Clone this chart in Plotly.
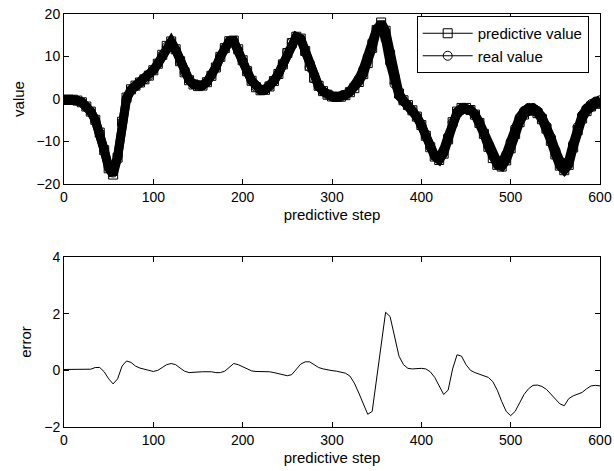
import plotly.graph_objects as go

steps = list(range(0, 601, 5))

real_value = [
    -0.2, -0.2, -0.2, -0.4, -0.8, -1.8, -3.0, -5.0, -8.0, -12.0,
    -16.0, -17.3, -13.5, -5.5, 0.0, 2.0, 3.0, 3.8, 4.6, 5.5,
    6.8, 8.3, 10.3, 12.3, 13.3, 11.5, 8.8, 6.3, 4.5, 3.5,
    3.1, 3.2, 4.0, 5.5, 7.5, 10.0, 12.0, 13.5, 13.5, 11.5,
    9.0, 6.5, 4.3, 2.8, 2.1, 2.2, 3.0, 4.3, 6.0, 8.3,
    11.0, 13.3, 14.6, 14.0, 11.0, 7.5, 4.8, 3.0, 1.8, 1.0,
    0.6, 0.5, 0.6, 1.0, 1.8, 3.0, 4.8, 7.0, 10.0, 13.5,
    16.5, 17.0, 14.0, 8.5, 3.5, 0.8, -0.5, -1.5, -2.7, -4.2,
    -6.2, -8.7, -11.3, -13.3, -13.8, -12.0, -8.8, -5.5, -3.5, -2.6,
    -2.3, -2.6, -3.6, -5.5, -8.0, -11.0, -13.5, -14.8, -14.8, -13.0,
    -10.0, -6.8, -4.3, -2.8, -2.1, -2.1, -2.8, -4.2, -6.3, -9.0,
    -12.0, -14.5, -15.5, -14.5, -10.5, -6.5, -3.8, -2.2, -1.2, -0.6,
    -0.3,
]

error = [
    0.03, 0.03, 0.03, 0.03, 0.03, 0.03, 0.04, 0.1, 0.1, -0.05,
    -0.3, -0.48, -0.3, 0.15, 0.33, 0.28, 0.15, 0.08, 0.03, 0.0,
    -0.04, 0.0, 0.1, 0.2, 0.24, 0.2, 0.08, -0.03, -0.08, -0.08,
    -0.06, -0.05, -0.05, -0.05, -0.08, -0.08, -0.03, 0.1, 0.24, 0.2,
    0.12, 0.04, -0.02, -0.04, -0.04, -0.04, -0.05, -0.08, -0.11, -0.15,
    -0.19, -0.15, 0.05, 0.22, 0.3, 0.3, 0.2, 0.1, 0.05, 0.01,
    -0.01, -0.03, -0.06, -0.1, -0.2, -0.45, -0.8, -1.15, -1.55, -1.45,
    -0.25, 1.0, 2.05, 1.9, 1.15, 0.5, 0.2, 0.07, 0.05, 0.06,
    0.07, 0.05, -0.05, -0.25, -0.55, -0.85, -0.7, 0.05, 0.55, 0.5,
    0.2, 0.0, -0.08, -0.13, -0.2, -0.25, -0.4, -0.7, -1.1, -1.45,
    -1.6, -1.45, -1.15, -0.85, -0.65, -0.53, -0.52, -0.57, -0.67, -0.85,
    -1.03, -1.18, -1.25, -1.0, -0.9, -0.85, -0.78, -0.65, -0.55, -0.53,
    -0.55,
]

predictive_value = [r + e for r, e in zip(real_value, error)]

x_ticks = [0, 100, 200, 300, 400, 500, 600]
value_ticks = [-20, -10, 0, 10, 20]
error_ticks = [-2, 0, 2, 4]

FONT = "Liberation Sans, Arial, sans-serif"

fig = go.Figure()

# dense band underneath the markers
fig.add_trace(go.Scatter(x=steps, y=real_value, mode="lines",
                         line=dict(color="black", width=9),
                         showlegend=False, hoverinfo="skip",
                         xaxis="x", yaxis="y"))
fig.add_trace(go.Scatter(x=steps, y=predictive_value, mode="lines",
                         line=dict(color="black", width=9),
                         showlegend=False, hoverinfo="skip",
                         xaxis="x", yaxis="y"))

fig.add_trace(go.Scatter(x=steps, y=predictive_value, mode="lines+markers",
                         name="predictive value",
                         line=dict(color="black", width=1),
                         marker=dict(symbol="square-open", size=9, color="black",
                                     line=dict(width=1, color="black")),
                         xaxis="x", yaxis="y"))
fig.add_trace(go.Scatter(x=steps, y=real_value, mode="lines+markers",
                         name="real value",
                         line=dict(color="black", width=1),
                         marker=dict(symbol="circle-open", size=9, color="black",
                                     line=dict(width=1, color="black")),
                         xaxis="x", yaxis="y"))

fig.add_trace(go.Scatter(x=steps, y=error, mode="lines",
                         line=dict(color="black", width=1),
                         showlegend=False,
                         xaxis="x2", yaxis="y2"))

axis_common = dict(
    showline=True, linecolor="black", linewidth=1, mirror="ticks",
    ticks="inside", ticklen=5, tickwidth=1, tickcolor="black",
    showgrid=False, zeroline=False, automargin=False,
    tickfont=dict(family=FONT, size=14, color="black"),
)

H_TOP = (427 - 184) / 413

fig.update_layout(
    width=614, height=471,
    margin=dict(l=64, r=14, t=14, b=44, autoexpand=False),
    paper_bgcolor="white", plot_bgcolor="white",
    font=dict(family=FONT, size=15, color="black"),
    xaxis=dict(domain=[0, 1], range=[0, 600], tickvals=x_ticks, anchor="y",
               title=dict(text="predictive step", font=dict(size=15), standoff=5),
               **axis_common),
    yaxis=dict(domain=[H_TOP, 1], range=[-20, 20], tickvals=value_ticks, anchor="x",
               title=dict(text="value", font=dict(size=15), standoff=8),
               **axis_common),
    xaxis2=dict(domain=[0, 1], range=[0, 600], tickvals=x_ticks, anchor="y2",
                title=dict(text="predictive step", font=dict(size=15), standoff=5),
                **axis_common),
    yaxis2=dict(domain=[0, 170 / 413], range=[-2, 4], tickvals=error_ticks, anchor="x2",
                title=dict(text="error", font=dict(size=15), standoff=8),
                **axis_common),
    legend=dict(x=(416.7 - 64) / 536, y=(427 - 16) / 413, xanchor="left", yanchor="top",
                bordercolor="black", borderwidth=1, bgcolor="white",
                font=dict(family=FONT, size=15, color="black"),
                itemwidth=50, tracegroupgap=0),
    showlegend=True,
)

fig.write_html("out.html", config={"displayModeBar": False},
               post_script="document.body.style.margin='0';document.body.style.overflow='hidden';")
